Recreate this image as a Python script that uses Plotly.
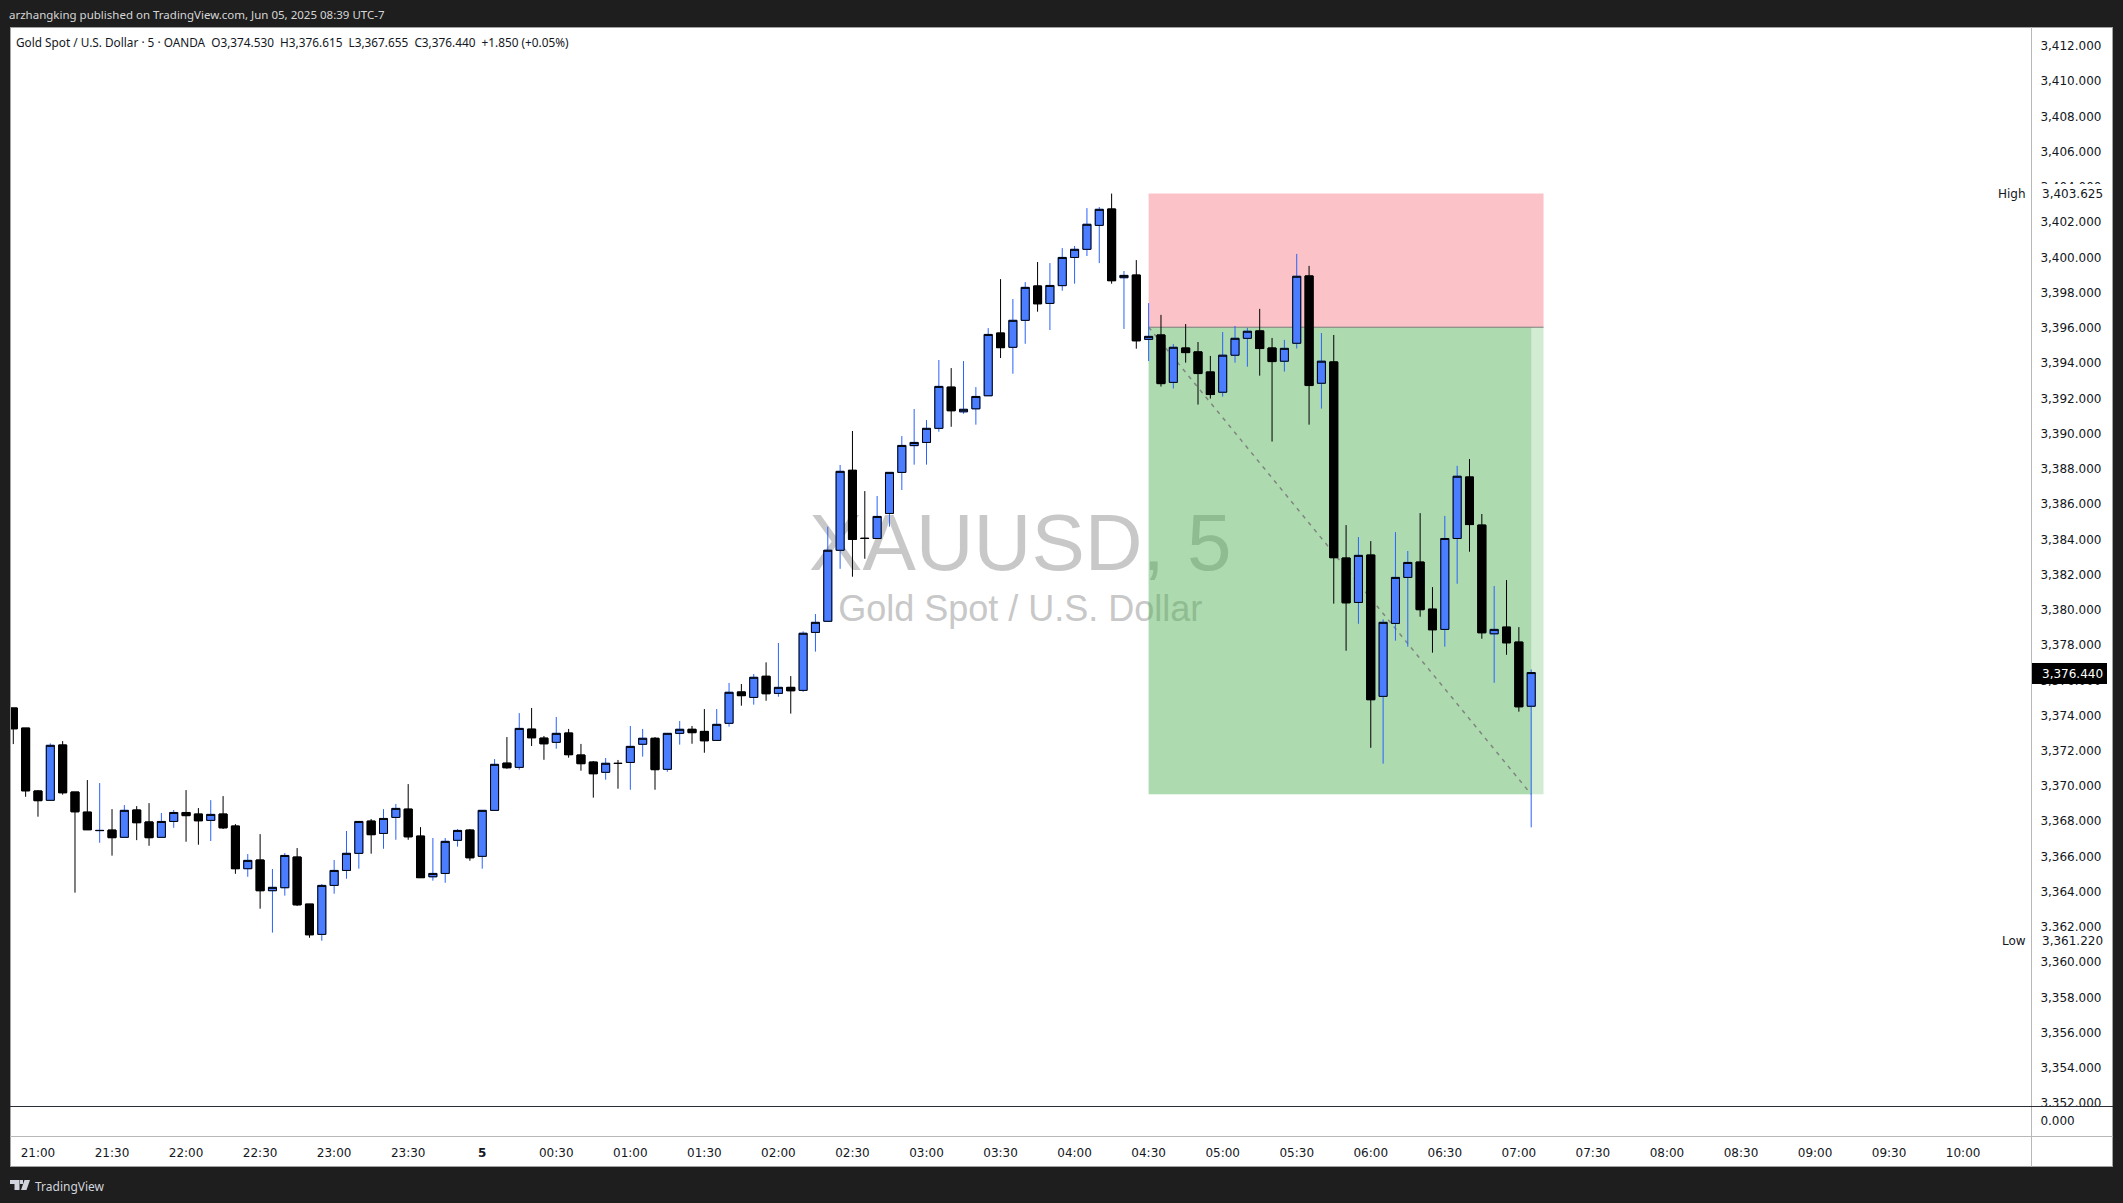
import pandas as pd
import plotly.graph_objects as go

W, H = 2123, 1203
# plotly keeps a few pixels at the bottom of the page out of paper space
PAPER_H = 1199

# ---- data ----
bar_times = pd.date_range("2025-06-04 20:50", periods=124, freq="5min")

opens = [
 3374.43,3373.29,3369.72,3369.19,3372.33,3369.66,3368.52,3367.47,3367.50,3367.09,
 3368.64,3367.96,3367.09,3367.99,3368.50,3368.41,3368.05,3368.41,3367.73,3365.31,
 3365.80,3364.06,3364.23,3365.97,3363.30,3361.58,3364.36,3365.21,3366.18,3368.01,
 3367.31,3368.22,3368.69,3367.16,3364.85,3365.04,3366.92,3367.50,3366.01,3368.62,
 3371.30,3371.06,3373.23,3372.72,3372.48,3373.01,3371.76,3371.36,3370.78,3371.29,
 3371.34,3372.37,3372.71,3370.95,3372.99,3373.22,3373.10,3372.59,3373.56,3375.34,
 3375.03,3376.23,3375.26,3375.60,3375.43,3378.72,3379.35,3383.38,3387.92,3384.06,
 3384.05,3385.47,3387.80,3389.32,3389.50,3390.30,3392.64,3391.24,3391.41,3392.15,
 3395.71,3394.90,3396.43,3398.38,3397.39,3398.40,3400.00,3400.46,3401.82,3402.75,
 3398.85,3399.00,3395.35,3395.60,3392.91,3394.86,3394.64,3393.50,3392.35,3394.45,
 3395.41,3395.83,3394.86,3394.11,3395.13,3398.95,3392.86,3394.07,3382.94,3380.42,
 3383.11,3375.09,3379.23,3381.84,3382.71,3380.04,3378.89,3384.05,3387.54,3384.81,
 3378.64,3379.02,3378.17,3374.53]
closes = [
 3373.25,3369.73,3369.17,3372.31,3369.62,3368.54,3367.52,3367.48,3367.07,3368.62,
 3367.92,3367.07,3367.99,3368.50,3368.32,3368.03,3368.39,3367.63,3365.31,3365.78,
 3364.06,3364.25,3366.06,3363.26,3361.56,3364.36,3365.21,3366.18,3367.99,3367.24,
 3368.16,3368.73,3367.12,3364.80,3365.04,3366.86,3367.48,3365.93,3368.62,3371.23,
 3371.04,3373.27,3372.74,3372.40,3372.99,3371.78,3371.27,3370.70,3371.29,3371.28,
 3372.25,3372.71,3370.93,3372.99,3373.22,3373.03,3372.57,3373.50,3375.32,3375.13,
 3376.17,3375.24,3375.60,3375.41,3378.67,3379.29,3383.38,3387.86,3384.00,3384.05,
 3385.30,3387.80,3389.33,3389.50,3390.30,3392.68,3391.30,3391.38,3392.11,3395.63,
 3394.88,3396.43,3398.30,3397.37,3398.41,3400.00,3400.46,3401.88,3402.73,3398.68,
 3398.98,3395.27,3395.52,3392.84,3394.90,3394.60,3393.41,3392.22,3394.45,3395.41,
 3395.81,3394.83,3394.09,3394.84,3398.93,3392.73,3394.11,3382.96,3380.40,3383.09,
 3374.90,3379.29,3381.84,3382.69,3380.01,3378.87,3384.05,3387.58,3384.84,3378.70,
 3378.89,3378.13,3374.50,3376.44]
highs = [
 3374.43,3373.29,3369.77,3372.42,3372.55,3369.66,3370.34,3370.17,3368.69,3368.92,
 3368.86,3369.03,3368.47,3368.64,3369.77,3368.75,3369.20,3369.43,3367.84,3366.14,
 3367.27,3365.29,3366.20,3366.48,3363.30,3364.44,3365.80,3367.45,3367.99,3368.13,
 3368.69,3368.98,3370.11,3367.67,3367.05,3367.05,3367.56,3367.56,3368.62,3371.53,
 3372.78,3374.14,3374.43,3372.84,3373.92,3373.24,3372.39,3371.42,3371.59,3371.48,
 3373.41,3373.24,3372.78,3372.99,3373.69,3373.41,3374.37,3374.37,3375.85,3375.79,
 3376.36,3377.02,3378.12,3376.24,3378.78,3379.76,3384.72,3388.22,3390.15,3386.74,
 3386.46,3387.80,3389.86,3391.40,3390.77,3394.18,3393.72,3394.12,3392.64,3395.99,
 3398.77,3397.64,3398.60,3399.74,3399.68,3400.53,3400.65,3402.80,3402.86,3403.625,
 3399.23,3399.85,3397.41,3396.74,3395.09,3396.22,3395.20,3394.41,3395.77,3396.11,
 3396.00,3397.08,3395.43,3395.32,3400.20,3399.52,3395.71,3395.60,3384.81,3384.13,
 3383.90,3379.46,3384.41,3383.34,3385.49,3381.29,3385.33,3388.17,3388.56,3385.44,
 3381.35,3381.69,3379.02,3376.615]
lows = [
 3372.38,3369.39,3368.26,3369.19,3369.51,3363.95,3367.52,3366.78,3366.05,3367.09,
 3366.93,3366.61,3367.09,3367.63,3366.84,3366.67,3366.88,3367.56,3365.02,3364.85,
 3363.04,3361.68,3363.78,3363.19,3361.39,3361.22,3363.89,3364.74,3365.31,3366.16,
 3366.44,3366.95,3366.95,3364.80,3364.63,3364.51,3366.56,3365.76,3365.31,3368.62,
 3370.98,3370.93,3372.27,3371.49,3372.12,3371.61,3370.87,3369.34,3370.36,3369.85,
 3369.79,3371.67,3369.79,3370.81,3372.35,3372.40,3371.89,3372.59,3373.37,3374.56,
 3374.62,3374.84,3375.07,3374.11,3375.35,3377.63,3379.35,3382.33,3381.88,3382.90,
 3384.06,3384.72,3386.80,3388.24,3388.24,3390.11,3390.39,3391.13,3390.51,3392.15,
 3394.29,3393.40,3395.10,3396.92,3395.88,3398.11,3398.51,3400.08,3399.68,3398.51,
 3395.94,3394.82,3394.12,3392.67,3392.56,3394.03,3391.65,3391.99,3392.10,3394.03,
 3393.80,3393.29,3389.55,3393.52,3394.83,3390.51,3391.42,3380.35,3377.68,3379.21,
 3372.17,3371.27,3378.25,3377.91,3379.61,3377.57,3377.91,3381.48,3383.30,3378.36,
 3375.86,3377.45,3374.22,3367.655]

price_ticks = [3412 - 2 * k for k in range(31)]
time_tick_values = pd.date_range("2025-06-04 21:00", "2025-06-05 10:00", freq="30min")
time_tick_labels = ["21:00","21:30","22:00","22:30","23:00","23:30","<b>5</b>",
    "00:30","01:00","01:30","02:00","02:30","03:00","03:30","04:00","04:30","05:00",
    "05:30","06:00","06:30","07:00","07:30","08:00","08:30","09:00","09:30","10:00"]

entry_price = 3396.04
stop_price = 3403.625
target_price = 3369.53
trade_start = "2025-06-05 04:30"
trade_filled = "2025-06-05 07:05"
trade_end = "2025-06-05 07:10"

header_text = "arzhangking published on TradingView.com, Jun 05, 2025 08:39 UTC-7"
legend_text = ("Gold Spot / U.S. Dollar · 5 · OANDA  O3,374.530  H3,376.615  "
               "L3,367.655  C3,376.440  +1.850 (+0.05%)")

# ---- colours ----
DARK = "#1e1e1e"
INK = "#131722"
BLUE_FILL = "#4a7dff"
BLUE_WICK = "#2962ff"
FRAME = "#a3a3a3"
MONO = "DejaVu Sans"
UI = "Noto Sans"

# ---- pixel helpers for page furniture ----
def fx(px):
    return px / W
def fy(py):
    return 1 - py / PAPER_H

def rect_xy(t0, t1, p0, p1):
    return [t0, t1, t1, t0, t0], [p0, p0, p1, p1, p0]

fig = go.Figure()

# watermark, below everything else
fig.add_trace(go.Scatter(
    x=["2025-06-05 03:38"], y=[3383.38], mode="text", text=["XAUUSD, 5"],
    textfont=dict(family="Liberation Sans", size=80, color="#c8c8c8"),
    textposition="middle center", hoverinfo="skip", showlegend=False))
fig.add_trace(go.Scatter(
    x=["2025-06-05 03:38"], y=[3379.9], mode="text", text=["Gold Spot / U.S. Dollar"],
    textfont=dict(family="Liberation Sans", size=36, color="#c8c8c8"),
    textposition="middle center", hoverinfo="skip", showlegend=False))

# position tool
def zone(t0, t1, p0, p1, color):
    xs, ys = rect_xy(t0, t1, p0, p1)
    fig.add_trace(go.Scatter(x=xs, y=ys, mode="lines", line=dict(width=0), fill="toself",
                             fillcolor=color, hoverinfo="skip", showlegend=False))

zone(trade_start, trade_end, entry_price, stop_price, "rgba(242,54,69,0.30)")
zone(trade_start, trade_end, target_price, entry_price, "rgba(76,175,80,0.25)")
zone(trade_start, trade_filled, target_price, entry_price, "rgba(76,175,80,0.27)")
fig.add_trace(go.Scatter(x=[trade_start, trade_end], y=[entry_price, entry_price], mode="lines",
                         line=dict(color="#7c7c7c", width=1), hoverinfo="skip", showlegend=False))
fig.add_trace(go.Scatter(x=[trade_start, trade_filled], y=[entry_price, target_price], mode="lines",
                         line=dict(color="#7f867f", width=1.5, dash="4px 5px"),
                         hoverinfo="skip", showlegend=False))

# candles: wicks in their own colour, bodies with a black outline on top
fig.add_trace(go.Candlestick(
    x=bar_times, open=opens, high=highs, low=lows, close=closes, yaxis="y3",
    increasing=dict(line=dict(color=BLUE_WICK, width=1), fillcolor=BLUE_FILL),
    decreasing=dict(line=dict(color="#000000", width=1), fillcolor="#000000"),
    hoverinfo="skip", showlegend=False))
fig.add_trace(go.Candlestick(
    x=bar_times, open=opens, close=closes,
    high=[max(a, b) for a, b in zip(opens, closes)],
    low=[min(a, b) for a, b in zip(opens, closes)], yaxis="y3",
    increasing=dict(line=dict(color="#000000", width=1), fillcolor=BLUE_FILL),
    decreasing=dict(line=dict(color="#000000", width=1), fillcolor="#000000"),
    hoverinfo="skip", showlegend=False))

# empty indicator pane under the price pane
fig.add_trace(go.Scatter(x=[bar_times[0]], y=[0], yaxis="y2", mode="lines",
                         hoverinfo="skip", showlegend=False))

def line(x0, y0, x1, y1, color=FRAME, width=1, layer="above"):
    return dict(type="line", xref="paper", yref="paper", x0=fx(x0), y0=fy(y0), x1=fx(x1), y1=fy(y1),
                line=dict(color=color, width=width), layer=layer)

def box(x0, y0, x1, y1, fill, layer="above"):
    return dict(type="rect", xref="paper", yref="paper", x0=fx(x0), y0=fy(y0), x1=fx(x1), y1=fy(y1),
                fillcolor=fill, line=dict(width=0), layer=layer)

def path(points, fill="#d1d4dc"):
    d = "M " + " L ".join(f"{fx(a):.5f},{fy(b):.5f}" for a, b in points) + " Z"
    return dict(type="path", xref="paper", yref="paper", path=d, fillcolor=fill,
                line=dict(width=0), layer="above")

shapes = [
    box(10, 27, 2113, 1167, "#ffffff", layer="below"),
    box(2032, 184, 2112, 204, "#ffffff"),          # High label backing
    box(2032, 931, 2112, 951, "#ffffff"),          # Low label backing
    box(2032, 1107, 2112, 1115, "#ffffff"),        # clips the lowest price tick
    box(2032, 663, 2107, 684, "#000000"),          # last price tag
    line(10, 27.5, 2113, 27.5),
    line(10.5, 27, 10.5, 1167),
    line(2112.5, 27, 2112.5, 1167),
    line(10, 1166.5, 2113, 1166.5),
    line(2031.5, 27, 2031.5, 1167, color="#b8b8b8"),
    line(10, 1136.5, 2113, 1136.5, color="#b8b8b8"),
    line(10, 1106.5, 2113, 1106.5, color="#2a2e39"),
    # TradingView mark
    path([(10, 1180), (19.5, 1180), (19.5, 1190), (14.5, 1190), (14.5, 1184), (10, 1184)]),
    path([(20, 1180), (23, 1180), (23, 1184), (20, 1184)]),
    path([(24.5, 1180), (30, 1180), (26.5, 1190), (21, 1190)]),
]

def label(x, y, text, color=INK, size=12, family=MONO, anchor="left"):
    return dict(xref="paper", yref="paper", x=fx(x), y=fy(y), text=text, showarrow=False,
                xanchor=anchor, yanchor="middle", align=anchor,
                font=dict(family=family, size=size, color=color), borderpad=0)

annotations = [
    label(8, 14.5, header_text, color="#d6d6d6", size=11.5, family=UI),
    label(15.3, 42, legend_text, size=11.8, family=UI),
    label(34, 1186, "TradingView", color="#d1d4dc", size=12, family=UI),
    label(2027, 194, "High", anchor="right"),
    label(2041, 194, "3,403.625"),
    label(2027, 941, "Low", anchor="right"),
    label(2041, 941, "3,361.220"),
    label(2041, 673.5, "3,376.440", color="#ffffff"),
]

px_per_usd = 17.62
y_top = 3412 + (46 - 27) / px_per_usd
y_bottom = 3412 - (1106 - 46) / px_per_usd
y_range = [y_bottom, y_top]
tick_font = dict(family=MONO, size=12, color=INK)

fig.update_layout(
    width=W, height=H,
    margin=dict(l=0, r=0, t=0, b=0, pad=0),
    paper_bgcolor=DARK, plot_bgcolor="rgba(0,0,0,0)",
    showlegend=False, boxgap=0.35, boxgroupgap=0, dragmode=False,
    xaxis=dict(
        domain=[fx(10), fx(2031)], anchor="y2", type="date",
        range=["2025-06-04 20:48:40", "2025-06-05 10:27:30"],
        tickmode="array", tickvals=list(time_tick_values), ticktext=time_tick_labels,
        tickfont=tick_font, ticks="outside", ticklen=6, tickcolor="rgba(0,0,0,0)",
        showgrid=False, zeroline=False, showline=False, rangeslider=dict(visible=False),
    ),
    yaxis=dict(
        domain=[fy(1106), fy(27)], anchor="x", side="right", range=y_range,
        tickmode="array", tickvals=price_ticks, tickformat=",.3f",
        tickfont=tick_font, ticks="outside", ticklen=6, tickcolor="rgba(0,0,0,0)",
        showgrid=False, zeroline=False, showline=False,
    ),
    yaxis2=dict(
        domain=[fy(1136), fy(1106)], anchor="x", side="right", range=[-1, 1],
        tickmode="array", tickvals=[0], tickformat=".3f",
        tickfont=tick_font, ticks="outside", ticklen=6, tickcolor="rgba(0,0,0,0)",
        showgrid=False, zeroline=False, showline=False,
    ),
    yaxis3=dict(overlaying="y", anchor="x", side="right", range=y_range, visible=False),
    shapes=shapes,
    annotations=annotations,
)

fig.write_html("out.html", config=dict(displayModeBar=False, responsive=False),
               post_script="document.documentElement.style.margin='0';"
                           "document.body.style.margin='0';document.body.style.lineHeight='0';"
                           "document.body.style.background='#1e1e1e';"
                           "var g=document.getElementById('{plot_id}');g.style.height='1203px';"
                           "g.style.overflow='hidden';document.body.style.height='1203px';"
                           "document.body.style.overflow='hidden';"
                           "document.documentElement.style.height='1203px';"
                           "document.documentElement.style.overflow='hidden';")
